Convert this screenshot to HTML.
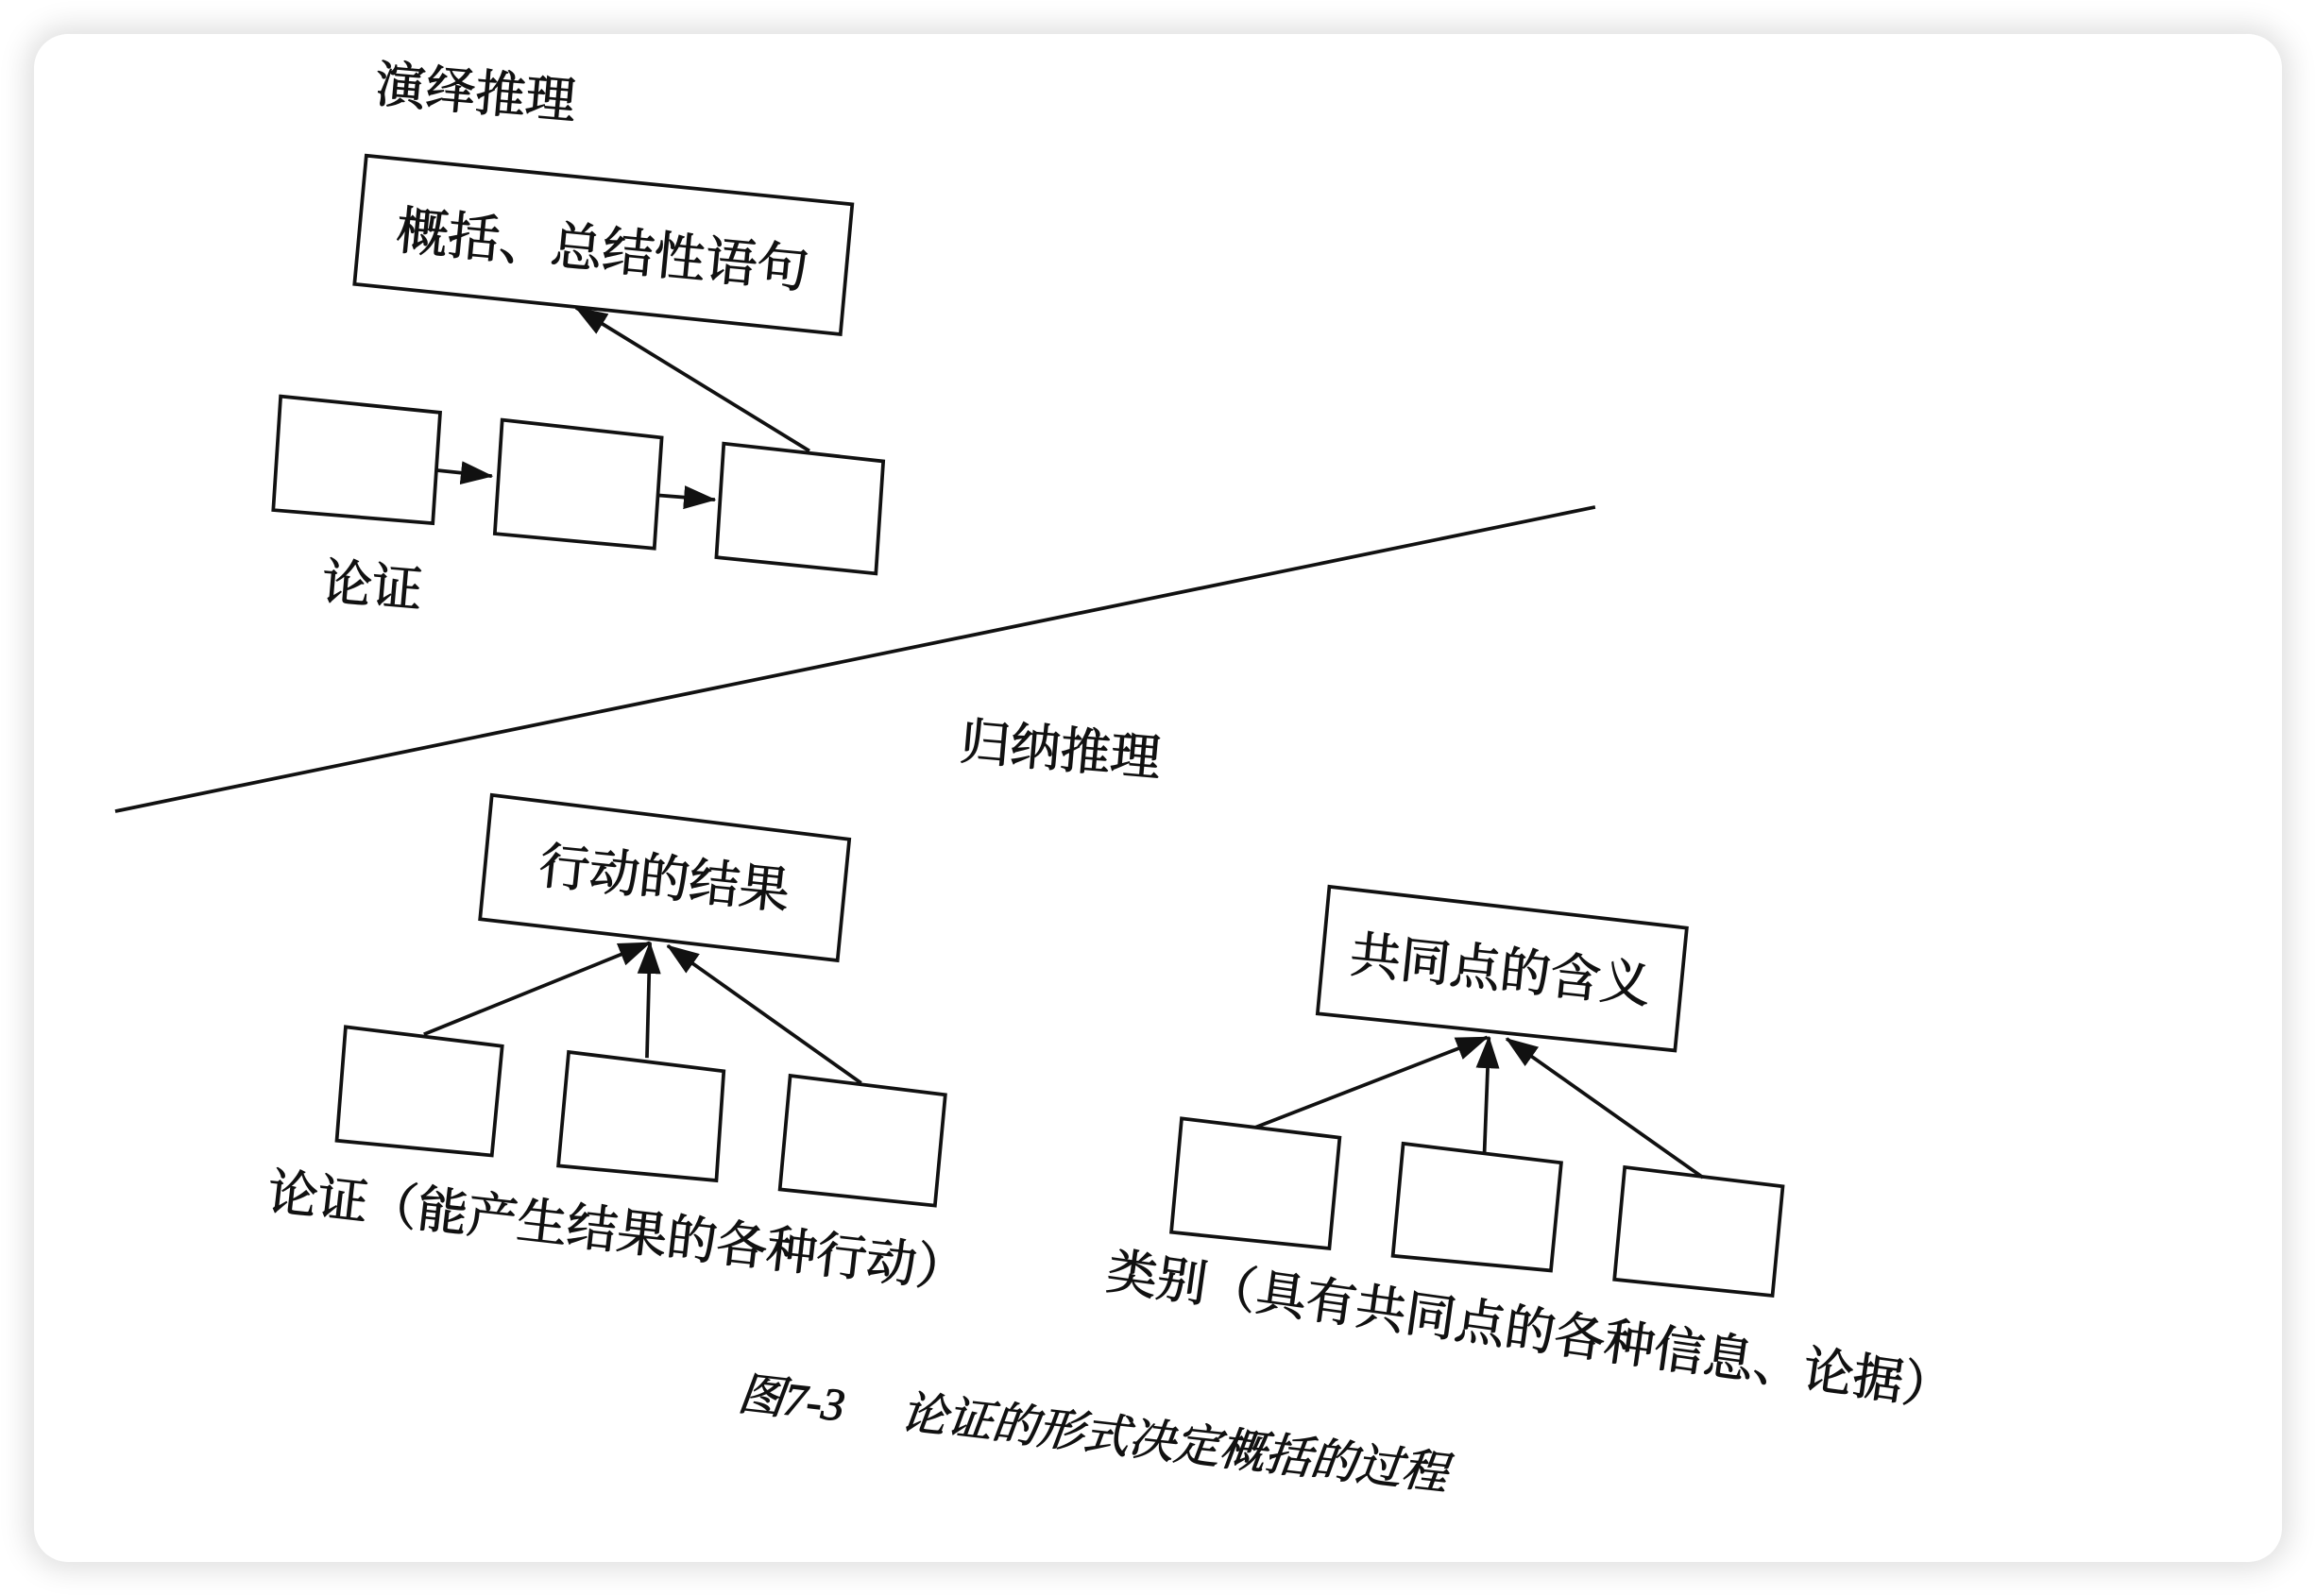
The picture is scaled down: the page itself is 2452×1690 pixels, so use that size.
<!DOCTYPE html>
<html><head><meta charset="utf-8"><style>
html,body{margin:0;padding:0;background:#fff;}
body{width:2452px;height:1690px;overflow:hidden;position:relative;}
.card{position:absolute;left:36px;top:36px;width:2380px;height:1618px;background:#fff;border-radius:36px;box-shadow:0 0 30px 8px rgba(0,0,0,0.13);}
svg{position:absolute;left:0;top:0;}
text{font-family:"Liberation Serif","Noto Serif CJK SC","Noto Sans CJK SC",serif;fill:#111;stroke:#111;stroke-width:0.7;}
</style></head><body>
<div class="card"></div>
<svg width="2452" height="1690" viewBox="0 0 1568 1080">
<defs>
<marker id="ab" markerWidth="22" markerHeight="16" refX="21" refY="8" orient="auto" markerUnits="userSpaceOnUse" viewBox="0 0 22 16">
<path d="M0,0 L22,8 L0,16 Z" fill="#111"/></marker>
</defs>
<g fill="none" stroke="#111" stroke-width="2.4">
<polygon points="248,105 577,138 569,226 240,192"/>
<polygon points="190,268 298,279 293,354 185,345"/>
<polygon points="340,284 448,296 443,371 335,361"/>
<polygon points="490,300 598,312 593,388 485,377"/>
<line x1="295" y1="318" x2="333" y2="322" marker-end="url(#ab)"/>
<line x1="445" y1="335" x2="484" y2="338" marker-end="url(#ab)"/>
<line x1="548" y1="305" x2="390" y2="208" marker-end="url(#ab)"/>
<line x1="78" y1="549" x2="1080" y2="343"/>
<polygon points="333,538 575,568 567,650 325,622"/>
<polygon points="234,695 340,708 333,782 228,772"/>
<polygon points="385,712 490,725 485,799 378,789"/>
<polygon points="535,728 640,741 633,816 528,805"/>
<line x1="287" y1="700" x2="440" y2="638" marker-end="url(#ab)"/>
<line x1="438" y1="716" x2="440" y2="638" marker-end="url(#ab)"/>
<line x1="583" y1="733" x2="452" y2="640" marker-end="url(#ab)"/>
<polygon points="900,600 1142,628 1134,711 892,686"/>
<polygon points="800,757 907,770 900,845 793,834"/>
<polygon points="950,774 1057,787 1050,860 943,850"/>
<polygon points="1100,790 1207,803 1200,877 1093,866"/>
<line x1="850" y1="763" x2="1007" y2="702" marker-end="url(#ab)"/>
<line x1="1005" y1="780" x2="1008" y2="702" marker-end="url(#ab)"/>
<line x1="1153" y1="797" x2="1020" y2="703" marker-end="url(#ab)"/>
</g>
<g font-size="34">
<text x="322" y="74" text-anchor="middle" transform="rotate(5 322 62)">演绎推理</text>
<text x="408" y="181" text-anchor="middle" font-size="35" transform="rotate(5.5 408 168)">概括、总结性语句</text>
<text x="252" y="408" text-anchor="middle" transform="rotate(5 252 395)">论证</text>
<text x="718" y="519" text-anchor="middle" transform="rotate(5 718 507)">归纳推理</text>
<text x="450" y="606" text-anchor="middle" transform="rotate(6 450 593)">行动的结果</text>
<text x="1016" y="668" text-anchor="middle" transform="rotate(6 1016 655)">共同点的含义</text>
<text x="418" y="845" text-anchor="middle" font-size="34" transform="rotate(6.5 418 832)">论证（能产生结果的各种行动）</text>
<text x="1036" y="912" text-anchor="middle" font-size="34" transform="rotate(8 1036 900)">类别（具有共同点的各种信息、论据）</text>
<text x="740" y="981" text-anchor="middle" font-size="31" font-style="italic" transform="rotate(6.5 740 970)">图7-3　 论证的形式决定概括的过程</text>
</g>
</svg>
</body></html>
